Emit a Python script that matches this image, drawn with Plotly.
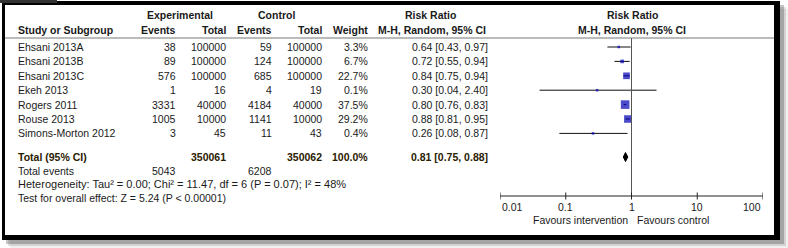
import math
import plotly.graph_objects as go

# ---------------- data ----------------
studies = ["Ehsani 2013A", "Ehsani 2013B", "Ehsani 2013C", "Ekeh 2013",
           "Rogers 2011", "Rouse 2013", "Simons-Morton 2012"]
exp_events = [38, 89, 576, 1, 3331, 1005, 3]
exp_total = [100000, 100000, 100000, 16, 40000, 10000, 45]
ctl_events = [59, 124, 685, 4, 4184, 1141, 11]
ctl_total = [100000, 100000, 100000, 19, 40000, 10000, 43]
weights = [3.3, 6.7, 22.7, 0.1, 37.5, 29.2, 0.4]
rr = [0.64, 0.72, 0.84, 0.30, 0.80, 0.88, 0.26]
rr_lo = [0.43, 0.55, 0.75, 0.04, 0.76, 0.81, 0.08]
rr_hi = [0.97, 0.94, 0.94, 2.40, 0.83, 0.95, 0.87]

total_exp = 350061
total_ctl = 350062
total_weight = 100.0
total_rr, total_lo, total_hi = 0.81, 0.75, 0.88
total_exp_events = 5043
total_ctl_events = 6208
heterogeneity = "Heterogeneity: Tau² = 0.00; Chi² = 11.47, df = 6 (P = 0.07); I² = 48%"
overall = "Test for overall effect: Z = 5.24 (P < 0.00001)"
tick_vals = [0.01, 0.1, 1, 10, 100]
tick_text = ["0.01", "0.1", "1", "10", "100"]
favours_left = "Favours intervention"
favours_right = "Favours control"

# ---------------- layout constants (pixels) ----------------
W, H = 788, 248
FONT = "Liberation Sans, Arial, sans-serif"
FS = 10.5
TXT = "#1a1a1a"
TOT = "#2a2000"
row_y0, row_dy = 47.0, 14.4
row_ys = [row_y0 + i * row_dy for i in range(len(studies))]
y_hdr1, y_hdr2, y_line = 15, 30, 38
y_total = 157
y_tev, y_het, y_test = 170.5, 184, 197.5
axis_y = 196
tick_lbl_y = 207
fav_y = 219.5

col_study = 16
col_ee, col_et, col_ce, col_ct, col_w, col_rr = 178, 228, 274, 324, 370, 490

fig = go.Figure()


def px(x):
    return x / W


anns = []


def txt(x, y, s, anchor="left", bold=False, color=TXT, size=FS):
    anns.append(dict(x=px(x), y=y, xref="paper", yref="y", text=("<b>%s</b>" % s) if bold else s,
                     showarrow=False, xanchor=anchor, yanchor="middle",
                     font=dict(family=FONT, size=size, color=color)))


# headers
txt(180, y_hdr1, "Experimental", "center", True)
txt(276, y_hdr1, "Control", "center", True)
txt(430, y_hdr1, "Risk Ratio", "center", True)
txt(632, y_hdr1, "Risk Ratio", "center", True)
txt(col_study, y_hdr2, "Study or Subgroup", "left", True)
txt(col_ee, y_hdr2, "Events", "right", True)
txt(col_et, y_hdr2, "Total", "right", True)
txt(col_ce, y_hdr2, "Events", "right", True)
txt(col_ct, y_hdr2, "Total", "right", True)
txt(col_w, y_hdr2, "Weight", "right", True)
txt(432, y_hdr2, "M-H, Random, 95% CI", "center", True)
txt(632, y_hdr2, "M-H, Random, 95% CI", "center", True)

# study rows
for i, s in enumerate(studies):
    y = row_ys[i]
    txt(col_study, y, s)
    txt(col_ee, y, str(exp_events[i]), "right")
    txt(col_et, y, str(exp_total[i]), "right")
    txt(col_ce, y, str(ctl_events[i]), "right")
    txt(col_ct, y, str(ctl_total[i]), "right")
    txt(col_w, y, "%.1f%%" % weights[i], "right")
    txt(col_rr, y, "%.2f [%.2f, %.2f]" % (rr[i], rr_lo[i], rr_hi[i]), "right")

# total rows
txt(col_study, y_total, "Total (95% CI)", "left", True, TOT)
txt(col_et, y_total, str(total_exp), "right", True, TOT)
txt(col_ct, y_total, str(total_ctl), "right", True, TOT)
txt(col_w, y_total, "%.1f%%" % total_weight, "right", True, TOT)
txt(col_rr, y_total, "%.2f [%.2f, %.2f]" % (total_rr, total_lo, total_hi), "right", True, TOT)
txt(col_study, y_tev, "Total events")
txt(col_ee, y_tev, str(total_exp_events), "right")
txt(col_ce, y_tev, str(total_ctl_events), "right")
txt(col_study, y_het, heterogeneity, size=11)
txt(col_study, y_test, overall)

# axis tick labels (annotations on a log axis take log10 positions)
for i, (v, t) in enumerate(zip(tick_vals, tick_text)):
    anchor = "left" if i == 0 else ("right" if i == len(tick_vals) - 1 else "center")
    anns.append(dict(x=math.log10(v), y=tick_lbl_y, xref="x", yref="y", text=t, showarrow=False,
                     xanchor=anchor, yanchor="middle", font=dict(family=FONT, size=FS, color=TXT)))
anns.append(dict(x=0, y=fav_y, xref="x", yref="y", text=favours_left, showarrow=False,
                 xanchor="right", xshift=-2, yanchor="middle", font=dict(family=FONT, size=FS, color=TXT)))
anns.append(dict(x=0, y=fav_y, xref="x", yref="y", text=favours_right, showarrow=False,
                 xanchor="left", xshift=3, yanchor="middle", font=dict(family=FONT, size=FS, color=TXT)))

# CI lines
cx, cy = [], []
for i in range(len(studies)):
    cx += [rr_lo[i], rr_hi[i], None]
    cy += [row_ys[i], row_ys[i], None]
fig.add_trace(go.Scatter(x=cx, y=cy, mode="lines", line=dict(color="#111", width=1),
                         hoverinfo="skip", showlegend=False))
# squares
sizes = [max(2.5, 1.4 * (w ** 0.5)) for w in weights]
fig.add_trace(go.Scatter(x=rr, y=row_ys, mode="markers",
                         marker=dict(symbol="square", size=sizes, color="#0000b4", line=dict(width=0)),
                         showlegend=False))
# line of no effect (drawn over the squares)
fig.add_trace(go.Scatter(x=[1, 1], y=[y_line, axis_y], mode="lines", line=dict(color="#555", width=1),
                         hoverinfo="skip", showlegend=False))
# diamond
fig.add_trace(go.Scatter(x=[total_lo, total_rr, total_hi, total_rr, total_lo],
                         y=[y_total, y_total - 4.5, y_total, y_total + 4.5, y_total],
                         mode="lines", fill="toself", fillcolor="#000", line=dict(color="#000", width=1),
                         showlegend=False))
# axis line + ticks
ax_x = [tick_vals[0], tick_vals[-1], None]
ax_y = [axis_y, axis_y, None]
for v in tick_vals:
    ax_x += [v, v, None]
    ax_y += [axis_y - 3.5, axis_y + 3.5, None]
fig.add_trace(go.Scatter(x=ax_x, y=ax_y, mode="lines", line=dict(color="#222", width=1),
                         hoverinfo="skip", showlegend=False))

shapes = []
# soft shadow
for off, op in [(8, 0.06), (6, 0.12), (4, 0.22)]:
    shapes.append(dict(type="rect", xref="paper", yref="y", x0=px(2 + off), x1=px(780 + off),
                       y0=1 + off, y1=240 + off, fillcolor="rgba(0,0,0,%s)" % op, line=dict(width=0),
                       layer="below"))
# black frame then white interior
shapes.append(dict(type="rect", xref="paper", yref="y", x0=px(2), x1=px(780), y0=1, y1=240,
                   fillcolor="#000", line=dict(width=0), layer="below"))
shapes.append(dict(type="rect", xref="paper", yref="y", x0=px(5), x1=px(774), y0=5, y1=235,
                   fillcolor="#fff", line=dict(width=0), layer="below"))
shapes.append(dict(type="rect", xref="paper", yref="y", x0=0, x1=px(57), y0=0, y1=3,
                   fillcolor="#333", line=dict(width=0), layer="below"))
# header underline
shapes.append(dict(type="line", xref="paper", yref="y", x0=px(5), x1=px(774), y0=y_line, y1=y_line,
                   line=dict(color="#777", width=1), layer="above"))

fig.update_layout(
    width=W, height=H, margin=dict(l=0, r=0, t=0, b=0),
    paper_bgcolor="#fff", plot_bgcolor="rgba(0,0,0,0)",
    xaxis=dict(type="log", range=[-2, 2], domain=[px(500), px(763)], visible=False, fixedrange=True),
    yaxis=dict(range=[H, 0], domain=[0, 1], visible=False, fixedrange=True),
    annotations=anns, shapes=shapes, showlegend=False,
)
fig.write_html("out.html", config={"displayModeBar": False},
               post_script="document.body.style.margin='0';document.body.style.overflow='hidden';")
